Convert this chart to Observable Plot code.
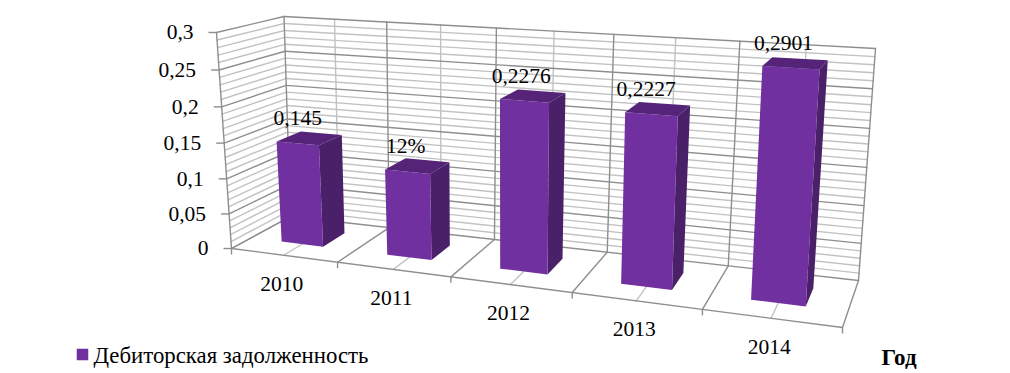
<!DOCTYPE html>
<html><head><meta charset="utf-8">
<style>html,body{margin:0;padding:0;background:#fff}svg{display:block}</style>
<script src="https://cdn.jsdelivr.net/npm/d3@7"></script>
<script src="https://cdn.jsdelivr.net/npm/@observablehq/plot@0.6"></script>
</head><body><div id="chart"></div>
<script>
const years = ["2010","2011","2012","2013","2014"];
const values = [0.145,0.12,0.2276,0.2227,0.2901];
const valueLabels = ["0,145","12%","0,2276","0,2227","0,2901"];
const yTicks = [0,0.05,0.1,0.15,0.2,0.25,0.3];
const yMinor = [0.01,0.02,0.03,0.04,0.06,0.07,0.08,0.09,0.11,0.12,0.13,0.14,0.16,0.17,0.18,0.19,0.21,0.22,0.23,0.24,0.26,0.27,0.28,0.29];
const legendLabel = "Дебиторская задолженность";
const xTitle = "Год";
const yMax = 0.3, n = years.length;

// camera: the corners of the 3D box on the page, with perspective warps per axis
const floorQuad = [[231,248],[842,327],[858,280],[290,216]];
const roofQuad  = [[216,32],[858,70.7],[875,48],[283.5,16]];
const warp=(t,a)=>t/(a+(1-a)*t);
const bilinear=(q,u,v)=>[0,1].map(k=>(1-v)*((1-u)*q[0][k]+u*q[1][k])+v*((1-u)*q[3][k]+u*q[2][k]));
function P(cat,depth,val){
  const s=warp(val/yMax,1.05), u=warp(cat/n,1.19), v=warp(depth,0.85);
  const F=bilinear(floorQuad,u,v), R=bilinear(roofQuad,u,v);
  return {x:F[0]+(R[0]-F[0])*s, y:F[1]+(R[1]-F[1])*s};
}
const addSeg=(arr,id,a,b)=>{arr.push({id,...a},{id,...b});};
const minorLines=[], majorLines=[];
yMinor.forEach((w,i)=>{
  addSeg(minorLines,"lm"+i,P(0,0,w),P(0,1,w));
  addSeg(minorLines,"bm"+i,P(0,1,w),P(n,1,w));
});
yTicks.forEach((w,i)=>{
  addSeg(majorLines,"l"+i,P(0,0,w),P(0,1,w));
  addSeg(majorLines,"b"+i,P(0,1,w),P(n,1,w));
});
d3.range(0,n).forEach(i=>{
  const c=i+0.5;
  addSeg(minorLines,"vm"+i,P(c,1,0),P(c,1,yMax));
  addSeg(minorLines,"fm"+i,P(c,0,0),P(c,1,0));
});
d3.range(0,n+1).forEach(i=>{
  addSeg(majorLines,"v"+i,P(i,1,0),P(i,1,yMax));
  addSeg(majorLines,"f"+i,P(i,0,0),P(i,1,0));
});
addSeg(majorLines,"axisY",P(0,0,0),P(0,0,yMax));
addSeg(majorLines,"axisX",P(0,0,0),P(n,0,0));

const u0=0.3,u1=0.7,v0=0.3,v1=0.7;
const frontFaces=[],sideFaces=[],topFaces=[];
values.forEach((val,i)=>{
  const a=i+u0,b=i+u1;
  [[a,v0,0],[b,v0,0],[b,v0,val],[a,v0,val]].forEach(p=>frontFaces.push({id:i,...P(...p)}));
  [[b,v0,0],[b,v1,0],[b,v1,val],[b,v0,val]].forEach(p=>sideFaces.push({id:i,...P(...p)}));
  [[a,v0,val],[b,v0,val],[b,v1,val],[a,v1,val]].forEach(p=>topFaces.push({id:i,...P(...p)}));
});
const yTickData=yTicks.map(w=>({w,...P(0,0,w)}));
const xTickData=d3.range(0,n+1).map(i=>P(i,0,0));
const xLabelData=years.map((t,i)=>({t,...P(i+0.5,0,0)}));
const valData=values.map((val,i)=>({t:valueLabels[i],...P(i+0.5,0.5,val)}));
const fmt=w=>String(+w.toFixed(2)).replace(".",",");
const serif="'Liberation Serif','Times New Roman',serif";
const purple="#7030a0";

const chart=Plot.plot({
  width:1010,height:373,margin:0,
  style:{background:"#fff",fontFamily:serif},
  x:{domain:[0,1010],range:[0,1010],axis:null},
  y:{domain:[0,373],range:[0,373],axis:null},
  marks:[
    Plot.line(minorLines,{x:"x",y:"y",z:"id",stroke:"#c2c2c2",strokeWidth:1.4,curve:"linear"}),
    Plot.line(majorLines,{x:"x",y:"y",z:"id",stroke:"#8e8e8e",strokeWidth:1.4,curve:"linear"}),
    Plot.link(yTickData,{x1:"x",y1:"y",x2:d=>d.x-8,y2:"y",stroke:"#8e8e8e",strokeWidth:1.4}),
    Plot.link(xTickData,{x1:"x",y1:"y",x2:"x",y2:d=>d.y+6,stroke:"#8e8e8e",strokeWidth:1.4}),
    Plot.line(sideFaces,{x:"x",y:"y",z:"id",fill:"#4a2068",stroke:null}),
    Plot.line(frontFaces,{x:"x",y:"y",z:"id",fill:purple,stroke:null}),
    Plot.line(topFaces,{x:"x",y:"y",z:"id",fill:"#552478",stroke:null}),
    Plot.text(yTickData,{x:"x",y:"y",text:d=>fmt(d.w),dx:-23,textAnchor:"end",fontSize:21.5,fill:"#000"}),
    Plot.text(xLabelData,{x:"x",y:"y",text:"t",dx:-2,dy:28.5,fontSize:21.5,fill:"#000"}),
    Plot.text(valData,{x:"x",y:"y",text:"t",dx:-12,dy:-20,fontSize:21.5,fill:"#000"}),
    Plot.dot([legendLabel],{frameAnchor:"bottom-left",dx:82,dy:-19,symbol:"square",r:6.5,fill:purple,stroke:null}),
    Plot.text([legendLabel],{frameAnchor:"bottom-left",dx:93,dy:-18,text:d=>d,textAnchor:"start",lineAnchor:"middle",fontSize:22.8,fill:"#000"}),
    Plot.text([xTitle],{frameAnchor:"bottom-left",dx:881,dy:-16,text:d=>d,textAnchor:"start",lineAnchor:"middle",fontSize:23,fontWeight:"bold",fill:"#000"})
  ]
});
document.getElementById("chart").append(chart);
</script></body></html>
